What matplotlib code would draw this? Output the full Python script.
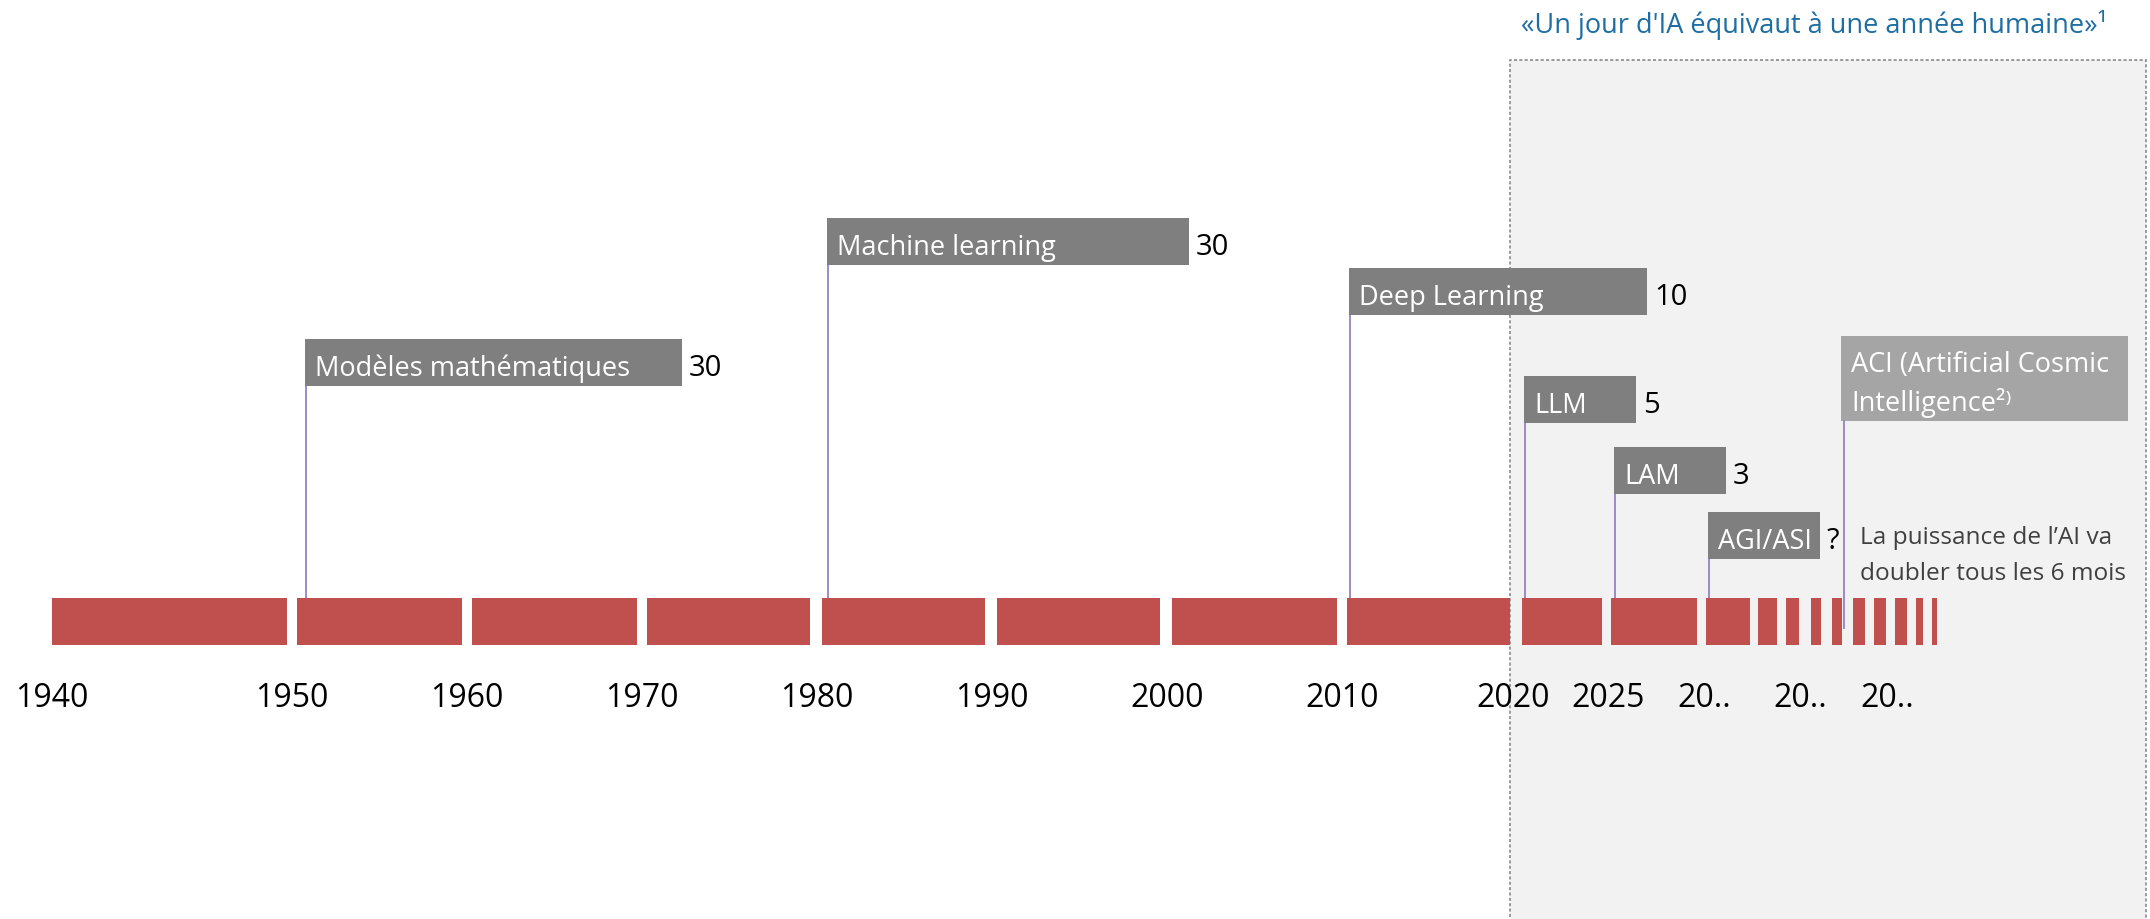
import matplotlib

matplotlib.use("Agg")
import matplotlib.pyplot as plt
from matplotlib.patches import Rectangle

plt.rcParams["font.family"] = ["Open Sans", "DejaVu Sans"]

# timeline blocks in years (schematic: 1940 block stretched, future compressed)
SEG_START = [1936.0, 1950.0, 1960.0, 1970.0, 1980.0, 1990.0, 2000.0, 2010.0,
             2020.0, 2025.1, 2030.5, 2033.5, 2035.1, 2036.5, 2037.7, 2038.9,
             2040.1, 2041.3, 2042.5, 2043.4]
SEG_END = [1949.4, 1959.4, 1969.4, 1979.3, 1989.3, 1999.3, 2009.4, 2019.3,
           2024.6, 2030.0, 2033.0, 2034.6, 2035.8, 2037.1, 2038.3, 2039.6,
           2040.8, 2042.0, 2042.9, 2043.7]

TICK_POS = [1936.0, 1949.7, 1959.7, 1969.7, 1979.7, 1989.7, 1999.7, 2009.7,
            2019.5, 2024.9, 2030.4, 2035.9, 2040.9]
TICK_LABELS = ["1940", "1950", "1960", "1970", "1980", "1990", "2000", "2010",
               "2020", "2025", "20..", "20..", "20.."]

# eras: name, duration label, box span (years) and box level
ERA_NAMES = ["Modèles mathématiques", "Machine learning", "Deep Learning",
             "LLM", "LAM", "AGI/ASI"]
ERA_VALUES = ["30", "30", "10", "5", "3", "?"]
ERA_X0 = [1950.46, 1980.29, 2010.11, 2020.11, 2025.26, 2030.63]
ERA_X1 = [1972.0, 2000.97, 2027.14, 2026.51, 2031.66, 2037.03]
ERA_LEVEL = [4.51, 7.09, 6.02, 3.72, 2.21, 0.83]

ACI_TEXT = "ACI (Artificial Cosmic\nIntelligence²⁾"
ACI_X0, ACI_X1 = 2038.23, 2054.63
ACI_LEVEL, ACI_STEM_END = 3.77, -0.64

NOTE = "La puissance de l’AI va\ndoubler tous les 6 mois"
TITLE = "«Un jour d'IA équivaut à une année humaine»¹"
SHADE_FROM = 2019.31

# layout: 17.5 px per year, 47 px per level, bar top at 598 px
PX_YEAR, PX_LEVEL = 17.5, 47.0
X_LEFT = 1950 - 297 / PX_YEAR
X_RIGHT = 1950 + (2150 - 297) / PX_YEAR
Y_TOP = 598 / PX_LEVEL
Y_BOTTOM = (598 - 919) / PX_LEVEL

BAR = "#c0504d"
BOX = "#7f7f7f"
BOX_LIGHT = "#a5a5a5"
STEM = "#9d8ac6"
SHADE = "#f2f2f2"
NOTE_C = "#404040"
TITLE_C = "#1e6ea3"


def main():
    fig = plt.figure(figsize=(21.5, 9.19), dpi=100, facecolor="white")
    ax = fig.add_axes([0, 0, 1, 1])
    ax.set_xlim(X_LEFT, X_RIGHT)
    ax.set_ylim(Y_BOTTOM, Y_TOP)
    ax.axis("off")

    pad_x = 10 / PX_YEAR
    base_dy = 10 / PX_LEVEL

    # shaded "AI year" zone
    ax.add_patch(Rectangle((SHADE_FROM, Y_BOTTOM - 1), X_RIGHT - 0.2 - SHADE_FROM,
                           Y_TOP - 1.27 - Y_BOTTOM + 1, facecolor=SHADE,
                           edgecolor="#808080", lw=1.1, ls=(0, (2, 1.5)),
                           zorder=0))
    ax.text(SHADE_FROM + 0.63, Y_TOP - 33 / PX_LEVEL, TITLE, color=TITLE_C,
            fontsize=19.5, va="baseline", ha="left")

    # timeline bar
    widths = [e - s for s, e in zip(SEG_START, SEG_END)]
    ax.barh(-0.5, widths, left=SEG_START, height=1.0, color=BAR, zorder=2)

    for pos, lab in zip(TICK_POS, TICK_LABELS):
        ax.text(pos, -109 / PX_LEVEL, lab, ha="center", va="baseline",
                fontsize=23, color="black")

    # era boxes with stems
    for name, val, x0, x1, lv in zip(ERA_NAMES, ERA_VALUES, ERA_X0, ERA_X1,
                                     ERA_LEVEL):
        ax.add_patch(Rectangle((x0, lv), x1 - x0, 1.0, facecolor=BOX,
                               edgecolor="none", zorder=3))
        ax.plot([x0 + 0.06, x0 + 0.06], [0, lv], color=STEM, lw=1.4, zorder=1)
        ax.text(x0 + pad_x, lv + base_dy, name, color="white", fontsize=19.5,
                va="baseline", ha="left", zorder=4)
        ax.text(x1 + 0.4, lv + base_dy, val, color="black", fontsize=21,
                va="baseline", ha="left", zorder=4)

    # ACI box (two lines)
    ax.add_patch(Rectangle((ACI_X0, ACI_LEVEL), ACI_X1 - ACI_X0, 1.81,
                           facecolor=BOX_LIGHT, edgecolor="none", zorder=3))
    ax.plot([ACI_X0 + 0.15, ACI_X0 + 0.15], [ACI_STEM_END, ACI_LEVEL],
            color=STEM, lw=1.4, zorder=3)
    aci_lines = ACI_TEXT.split("\n")
    for i, line in enumerate(aci_lines):
        y = ACI_LEVEL + base_dy + (len(aci_lines) - 1 - i) * 39 / PX_LEVEL
        ax.text(ACI_X0 + pad_x, y, line, color="white", fontsize=19.5,
                va="baseline", ha="left", zorder=4)

    note_lines = NOTE.split("\n")
    for i, line in enumerate(note_lines):
        y = (598 - 544 - 36 * i) / PX_LEVEL
        ax.text(2039.31, y, line, color=NOTE_C, fontsize=17.6, va="baseline",
                ha="left", zorder=4)

    fig.savefig("out.png", dpi=100, facecolor="white")
    plt.close(fig)


if __name__ == "__main__":
    main()
